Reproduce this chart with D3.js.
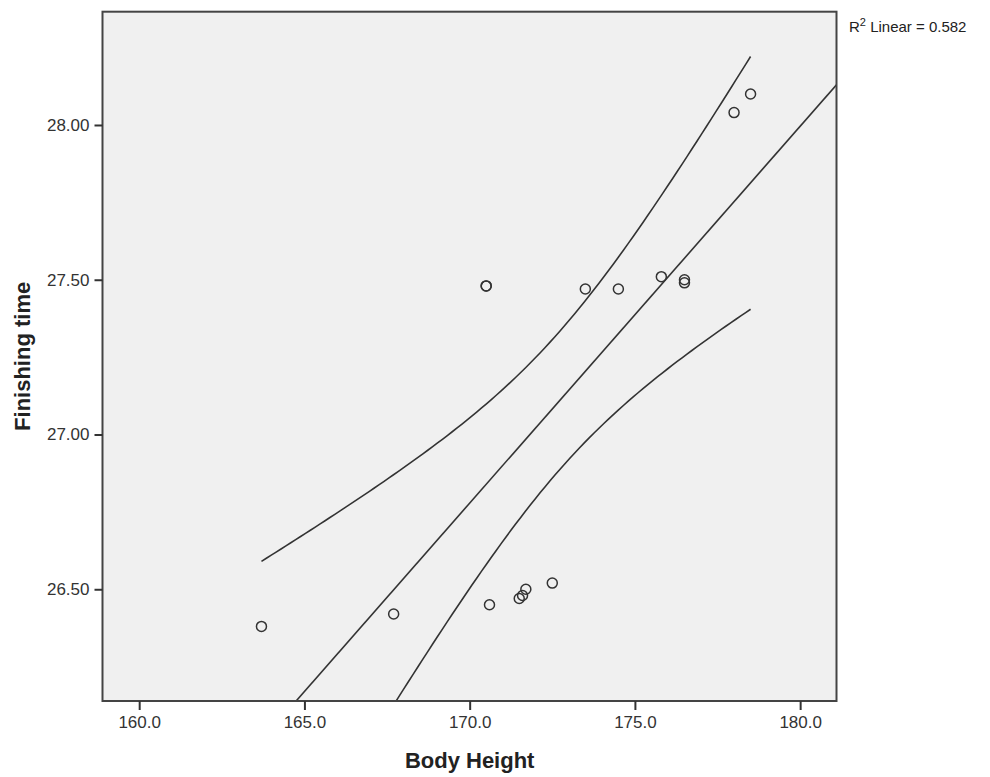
<!DOCTYPE html>
<html>
<head>
<meta charset="utf-8">
<script src="https://cdn.jsdelivr.net/npm/d3@7"></script>
<style>
  body { margin: 0; background: #fff; }
  text { font-family: "Liberation Sans", Arial, sans-serif; }
</style>
</head>
<body>
<div id="chart"></div>
<script>
// body height (cm) and finishing time for each runner
var heights = [163.7, 167.7, 170.6, 171.5, 171.6, 171.7, 172.5, 170.5, 170.5,
               173.5, 174.5, 175.8, 176.5, 176.5, 178.0, 178.5];
var times   = [26.38, 26.42, 26.45, 26.47, 26.48, 26.50, 26.52, 27.48, 27.48,
               27.47, 27.47, 27.51, 27.50, 27.49, 28.04, 28.10];

var xTicks = [160, 165, 170, 175, 180];
var yTicks = [26.5, 27.0, 27.5, 28.0];

var width = 990, height = 777;
var plot = {left: 102.5, right: 836.5, top: 11.7, bottom: 701};

var svg = d3.select("#chart")
            .append("svg")
              .attr("width", width)
              .attr("height", height);

var xScale = d3.scaleLinear()
                .domain([158.89, 181.1])
                .range([plot.left, plot.right]);

var yScale = d3.scaleLinear()
                .domain([26.139, 28.366])
                .range([plot.bottom, plot.top]);

// least squares fit
var n = heights.length,
    xMean = d3.mean(heights),
    yMean = d3.mean(times),
    sxx = 0, sxy = 0, syy = 0;
heights.forEach(function(x, i) {
  var dx = x - xMean, dy = times[i] - yMean;
  sxx += dx * dx;
  sxy += dx * dy;
  syy += dy * dy;
});
var slope = sxy / sxx,
    intercept = yMean - slope * xMean,
    r2 = (sxy * sxy) / (sxx * syy),
    s = Math.sqrt(syy * (1 - r2) / (n - 2)),
    tCrit = 2.145; // t(0.975, df = 14)

function fit(x) { return intercept + slope * x; }
function band(x) { return tCrit * s * Math.sqrt(1 / n + (x - xMean) * (x - xMean) / sxx); }

// plot background
svg.append("rect")
    .attr("x", plot.left)
    .attr("y", plot.top)
    .attr("width", plot.right - plot.left)
    .attr("height", plot.bottom - plot.top)
    .attr("fill", "#f0f0f0");

svg.append("clipPath")
    .attr("id", "clip")
  .append("rect")
    .attr("x", plot.left)
    .attr("y", plot.top)
    .attr("width", plot.right - plot.left)
    .attr("height", plot.bottom - plot.top);

var inner = svg.append("g").attr("clip-path", "url(#clip)");

var line = d3.line()
              .x(function(d) { return xScale(d[0]); })
              .y(function(d) { return yScale(d[1]); });

// fit line across the whole frame
var xDom = xScale.domain();
inner.append("path")
    .attr("d", line([[xDom[0], fit(xDom[0])], [xDom[1], fit(xDom[1])]]))
    .attr("fill", "none")
    .attr("stroke", "#333")
    .attr("stroke-width", 1.6);

// 95% confidence bands over the data range
var xMin = d3.min(heights), xMax = d3.max(heights);
var steps = d3.range(0, 101).map(function(i) { return xMin + (xMax - xMin) * i / 100; });
[1, -1].forEach(function(sign) {
  inner.append("path")
      .attr("d", line(steps.map(function(x) { return [x, fit(x) + sign * band(x)]; })))
      .attr("fill", "none")
      .attr("stroke", "#333")
      .attr("stroke-width", 1.6);
});

// points
inner.selectAll(".dot")
    .data(heights)
  .enter().append("circle")
    .attr("class", "dot")
    .attr("cx", function(d) { return xScale(d); })
    .attr("cy", function(d, i) { return yScale(times[i]); })
    .attr("r", 5)
    .attr("fill", "none")
    .attr("stroke", "#333")
    .attr("stroke-width", 1.5);

// frame
svg.append("rect")
    .attr("x", plot.left)
    .attr("y", plot.top)
    .attr("width", plot.right - plot.left)
    .attr("height", plot.bottom - plot.top)
    .attr("fill", "none")
    .attr("stroke", "#444")
    .attr("stroke-width", 2);

// axes
var xAxis = d3.axisBottom(xScale)
              .tickValues(xTicks)
              .tickSize(9)
              .tickPadding(6)
              .tickFormat(d3.format(".1f"));
var gx = svg.append("g")
    .attr("transform", "translate(0," + plot.bottom + ")")
    .call(xAxis);

var yAxis = d3.axisLeft(yScale)
              .tickValues(yTicks)
              .tickSize(8)
              .tickPadding(5)
              .tickFormat(d3.format(".2f"));
var gy = svg.append("g")
    .attr("transform", "translate(" + plot.left + ",0)")
    .call(yAxis);

[gx, gy].forEach(function(g) {
  g.select(".domain").remove();
  g.selectAll(".tick line").attr("stroke", "#333").attr("stroke-width", 2);
  g.selectAll(".tick text")
    .attr("fill", "#333")
    .style("font-family", "'Liberation Sans', Arial, sans-serif")
    .style("font-size", "17px");
});

// axis titles
svg.append("text")
    .attr("x", xScale(170))
    .attr("y", 768)
    .attr("text-anchor", "middle")
    .style("font-size", "22px")
    .style("font-weight", "bold")
    .attr("fill", "#222")
    .text("Body Height");

svg.append("text")
    .attr("transform", "translate(30," + ((plot.top + plot.bottom) / 2) + ") rotate(-90)")
    .attr("text-anchor", "middle")
    .style("font-size", "22px")
    .style("font-weight", "bold")
    .attr("fill", "#222")
    .text("Finishing time");

// R squared label
var r2Label = svg.append("text")
    .attr("x", 849)
    .attr("y", 32)
    .style("font-size", "15px")
    .attr("fill", "#222");
r2Label.append("tspan").text("R");
r2Label.append("tspan").attr("dy", -6).style("font-size", "11px").text("2");
r2Label.append("tspan").attr("dy", 6).text(" Linear = " + r2.toFixed(3));
</script>
</body>
</html>
